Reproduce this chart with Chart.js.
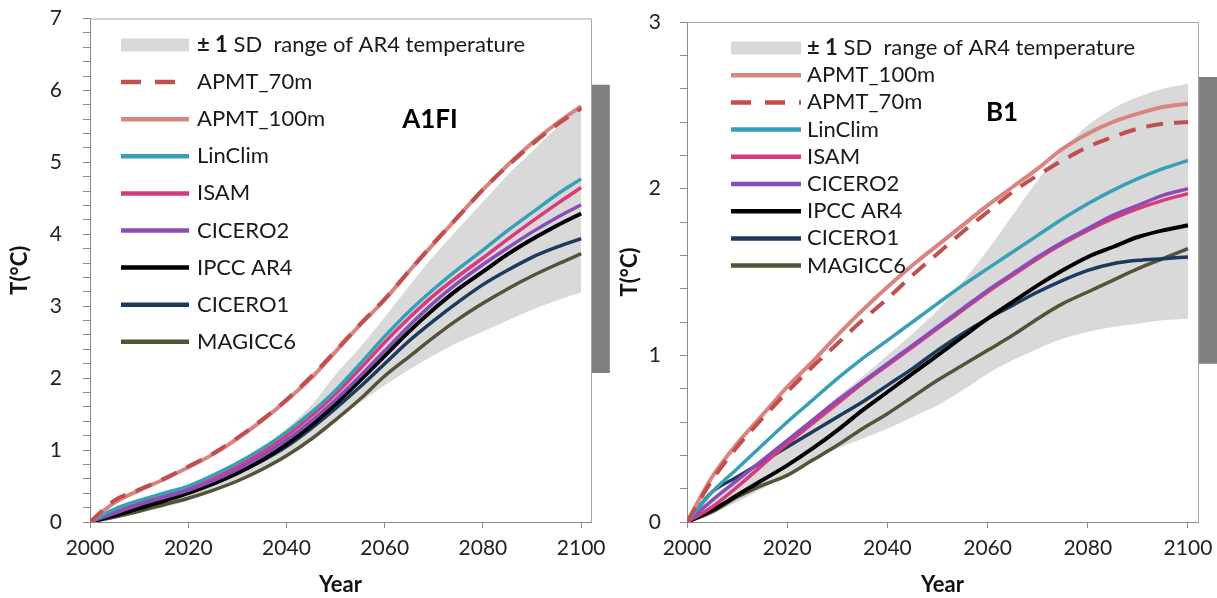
<!DOCTYPE html>
<html lang="en">
<head>
    <meta charset="UTF-8">
    <title>A1FI and B1 temperature projections</title>
    <script src="https://cdn.jsdelivr.net/npm/chart.js"></script>
    <style>
        * {
            margin: 0;
            padding: 0;
            box-sizing: border-box;
        }

        body {
            background-color: #fff;
            width: 1217px;
            height: 598px;
            overflow: hidden;
        }

        .row {
            display: flex;
        }

        canvas {
            display: block;
        }
    </style>
</head>
<body>

    <div class="row">
        <canvas id="chartA1FI" width="610" height="598"></canvas>
        <canvas id="chartB1" width="607" height="598"></canvas>
    </div>

    <script>
        // years shared by every series (5-year steps)
        const years = [2000, 2005, 2010, 2015, 2020, 2025, 2030, 2035, 2040, 2045, 2050,
                       2055, 2060, 2065, 2070, 2075, 2080, 2085, 2090, 2095, 2100];
        const xTicks = [2000, 2020, 2040, 2060, 2080, 2100];
        const barYear = 2104;

        // ---- A1FI ----
        const a1fiApmt70  = [0, 0.30, 0.45, 0.60, 0.77, 0.95, 1.17, 1.42, 1.70, 2.02, 2.38, 2.75, 3.10, 3.49, 3.88, 4.25, 4.62, 4.95, 5.25, 5.52, 5.75];
        const a1fiApmt100 = [0, 0.27, 0.44, 0.59, 0.76, 0.94, 1.16, 1.41, 1.69, 2.00, 2.37, 2.74, 3.09, 3.49, 3.87, 4.25, 4.62, 4.96, 5.27, 5.54, 5.78];
        const a1fiLinClim = [0, 0.18, 0.30, 0.40, 0.50, 0.65, 0.82, 1.02, 1.25, 1.52, 1.83, 2.20, 2.58, 2.93, 3.24, 3.52, 3.78, 4.05, 4.30, 4.55, 4.77];
        const a1fiIsam    = [0, 0.15, 0.27, 0.37, 0.47, 0.60, 0.77, 0.97, 1.20, 1.47, 1.78, 2.13, 2.50, 2.84, 3.15, 3.42, 3.67, 3.93, 4.18, 4.42, 4.65];
        const a1fiCicero2 = [0, 0.12, 0.24, 0.34, 0.44, 0.57, 0.73, 0.92, 1.14, 1.40, 1.70, 2.03, 2.38, 2.73, 3.05, 3.33, 3.58, 3.81, 4.03, 4.23, 4.41];
        const a1fiIpcc    = [0, 0.09, 0.19, 0.29, 0.40, 0.53, 0.68, 0.86, 1.08, 1.34, 1.64, 1.97, 2.31, 2.65, 2.96, 3.24, 3.48, 3.72, 3.93, 4.12, 4.29];
        const a1fiCicero1 = [0, 0.12, 0.22, 0.32, 0.42, 0.54, 0.68, 0.85, 1.05, 1.30, 1.58, 1.88, 2.20, 2.52, 2.80, 3.06, 3.30, 3.50, 3.68, 3.82, 3.94];
        const a1fiMagicc6 = [0, 0.07, 0.15, 0.24, 0.33, 0.44, 0.57, 0.73, 0.92, 1.15, 1.42, 1.71, 2.03, 2.30, 2.57, 2.82, 3.04, 3.24, 3.42, 3.58, 3.73];
        const a1fiSdUpper = [0, 0.10, 0.22, 0.36, 0.52, 0.66, 0.82, 1.03, 1.30, 1.62, 2.05, 2.43, 2.85, 3.28, 3.70, 4.08, 4.45, 4.82, 5.15, 5.48, 5.80];
        const a1fiSdLower = [0, 0.05, 0.12, 0.20, 0.30, 0.42, 0.55, 0.72, 0.95, 1.18, 1.42, 1.66, 1.90, 2.12, 2.32, 2.50, 2.65, 2.80, 2.95, 3.08, 3.19];
        const a1fiBar = [2.07, 6.08];

        // ---- B1 ----
        const b1Apmt100 = [0, 0.27, 0.47, 0.64, 0.81, 0.96, 1.12, 1.27, 1.41, 1.54, 1.66, 1.78, 1.90, 2.01, 2.12, 2.24, 2.33, 2.40, 2.45, 2.49, 2.51];
        const b1Apmt70  = [0, 0.25, 0.45, 0.62, 0.78, 0.93, 1.07, 1.21, 1.34, 1.48, 1.61, 1.74, 1.86, 1.98, 2.08, 2.17, 2.25, 2.31, 2.36, 2.39, 2.40];
        const b1LinClim = [0, 0.18, 0.32, 0.46, 0.60, 0.73, 0.86, 0.98, 1.09, 1.20, 1.31, 1.42, 1.52, 1.62, 1.72, 1.82, 1.91, 1.99, 2.06, 2.12, 2.17];
        const b1Isam    = [0, 0.09, 0.21, 0.34, 0.47, 0.59, 0.71, 0.83, 0.94, 1.05, 1.16, 1.27, 1.38, 1.48, 1.58, 1.67, 1.75, 1.82, 1.88, 1.93, 1.97];
        const b1Cicero2 = [0, 0.13, 0.25, 0.37, 0.49, 0.61, 0.73, 0.84, 0.95, 1.06, 1.17, 1.28, 1.39, 1.49, 1.59, 1.68, 1.76, 1.84, 1.90, 1.96, 2.00];
        const b1Ipcc    = [0, 0.07, 0.16, 0.25, 0.34, 0.44, 0.55, 0.67, 0.78, 0.89, 1.00, 1.11, 1.22, 1.32, 1.42, 1.51, 1.59, 1.65, 1.71, 1.75, 1.78];
        const b1Cicero1 = [0, 0.18, 0.27, 0.36, 0.45, 0.54, 0.63, 0.72, 0.82, 0.92, 1.03, 1.13, 1.22, 1.30, 1.38, 1.45, 1.51, 1.55, 1.57, 1.58, 1.59];
        const b1Magicc6 = [0, 0.06, 0.15, 0.22, 0.28, 0.37, 0.46, 0.56, 0.65, 0.75, 0.85, 0.94, 1.03, 1.12, 1.22, 1.31, 1.38, 1.45, 1.52, 1.58, 1.64];
        const b1SdUpper = [0, 0.12, 0.25, 0.37, 0.50, 0.62, 0.75, 0.87, 1.00, 1.13, 1.27, 1.44, 1.63, 1.84, 2.05, 2.23, 2.38, 2.48, 2.55, 2.60, 2.63];
        const b1SdLower = [0, 0.05, 0.12, 0.20, 0.28, 0.36, 0.44, 0.50, 0.56, 0.63, 0.70, 0.79, 0.89, 0.97, 1.04, 1.10, 1.14, 1.17, 1.19, 1.21, 1.22];
        const b1Bar = [0.95, 2.67];

        const FONT = 'Lato, "Open Sans", sans-serif';
        Chart.defaults.font.family = FONT;

        const colors = {
            'APMT_70m':  '#C0504D',
            'APMT_100m': '#DA8482',
            'LinClim':   '#37A0B6',
            'ISAM':      '#D83A7C',
            'CICERO2':   '#8A4DB8',
            'IPCC AR4':  '#000000',
            'CICERO1':   '#1B3A5E',
            'MAGICC6':   '#545239',
            band:        '#D9D9D9',
            bar:         '#808080'
        };
        const apmtDash = [17, 11];

        const pts = arr => years.map((yr, i) => ({ x: yr, y: arr[i] }));

        function series(label, arr, width) {
            return {
                label: label,
                data: pts(arr),
                borderColor: colors[label],
                borderWidth: width || 3.5,
                borderDash: label === 'APMT_70m' ? apmtDash : [],
                pointRadius: 0,
                fill: false
            };
        }

        // draws legend + scenario name inside the plot, and the top/right frame
        const overlayPlugin = {
            id: 'overlay',
            afterDraw(chart, args, o) {
                const ctx = chart.ctx;
                const a = chart.chartArea;
                ctx.save();

                ctx.strokeStyle = '#a6a6a6';
                ctx.lineWidth = 1;
                ctx.beginPath();
                ctx.moveTo(a.left, a.top + 0.5);
                ctx.lineTo(a.right + 0.5, a.top + 0.5);
                ctx.lineTo(a.right + 0.5, a.bottom);
                ctx.stroke();

                ctx.textBaseline = 'middle';
                o.items.forEach((name, i) => {
                    const y = o.top + i * o.rowGap;
                    if (name === 'band') {
                        ctx.fillStyle = colors.band;
                        ctx.fillRect(o.x1, y - 6.5, o.x2 - o.x1, 13);
                        ctx.fillStyle = '#1a1a1a';
                        ctx.font = 'bold 22px ' + FONT;
                        ctx.fillText('\u00b1 1', o.textX, y);
                        const w = ctx.measureText('\u00b1 1').width;
                        ctx.font = '22px ' + FONT;
                        ctx.fillText(' SD  range of AR4 temperature', o.textX + w, y);
                        return;
                    }
                    ctx.strokeStyle = colors[name];
                    ctx.lineWidth = 4.5;
                    ctx.setLineDash(name === 'APMT_70m' ? [20, 14] : []);
                    ctx.beginPath();
                    ctx.moveTo(o.x1, y);
                    ctx.lineTo(o.x2, y);
                    ctx.stroke();
                    ctx.setLineDash([]);
                    ctx.fillStyle = '#1a1a1a';
                    ctx.font = '22px ' + FONT;
                    ctx.fillText(name, o.textX, y);
                });

                ctx.font = 'bold 26px ' + FONT;
                ctx.textAlign = 'center';
                ctx.fillStyle = '#000';
                ctx.fillText(o.scenario, o.scenarioX, o.scenarioY);
                ctx.restore();
            }
        };

        function makeChart(id, cfg) {
            const s = cfg.data;
            const datasets = [
                series('APMT_70m', s.apmt70, 4),
                series('APMT_100m', s.apmt100, 4),
                series('LinClim', s.linClim),
                series('CICERO2', s.cicero2),
                series('ISAM', s.isam),
                series('IPCC AR4', s.ipcc, 4),
                series('CICERO1', s.cicero1),
                series('MAGICC6', s.magicc6),
                {
                    label: 'range bar',
                    data: [{ x: barYear, y: s.bar[0] }, { x: barYear, y: s.bar[1] }],
                    borderColor: colors.bar,
                    borderWidth: 18,
                    borderCapStyle: 'butt',
                    pointRadius: 0,
                    tension: 0,
                    cubicInterpolationMode: 'default',
                    clip: false,
                    fill: false
                },
                {
                    label: 'SD upper',
                    data: pts(s.sdUpper),
                    borderWidth: 0,
                    borderColor: 'rgba(0,0,0,0)',
                    backgroundColor: colors.band,
                    pointRadius: 0,
                    fill: { target: 10 }
                },
                {
                    label: 'SD lower',
                    data: pts(s.sdLower),
                    borderWidth: 0,
                    borderColor: 'rgba(0,0,0,0)',
                    pointRadius: 0,
                    fill: false
                }
            ];

            return new Chart(document.getElementById(id), {
                type: 'line',
                data: { datasets: datasets },
                options: {
                    responsive: false,
                    animation: false,
                    events: [],
                    layout: { padding: { left: 0, top: cfg.padTop, right: 19, bottom: 0 } },
                    elements: { line: { cubicInterpolationMode: 'monotone' } },
                    plugins: {
                        legend: { display: false },
                        tooltip: { enabled: false },
                        overlay: cfg.overlay
                    },
                    scales: {
                        x: {
                            type: 'linear',
                            min: 2000,
                            max: 2102,
                            afterBuildTicks: ax => { ax.ticks = xTicks.map(v => ({ value: v })); },
                            afterFit: ax => {
                                ax.height = 76;
                                ax.paddingLeft = 0;
                                ax.paddingRight = 0;
                            },
                            grid: { drawOnChartArea: false, tickLength: 6, tickColor: '#8c8c8c' },
                            border: { color: '#8c8c8c' },
                            ticks: {
                                font: { size: 21 }, color: '#222', padding: 8,
                                maxRotation: 0, autoSkip: false,
                                callback: v => String(v)
                            },
                            title: {
                                display: true, text: 'Year', color: '#111',
                                font: { size: 22, weight: 'bold' }, padding: { top: 0, bottom: 0 }
                            }
                        },
                        y: {
                            min: 0,
                            max: cfg.yMax,
                            afterFit: ax => {
                                ax.width = cfg.yWidth;
                                ax.paddingTop = 0;
                                ax.paddingBottom = 0;
                            },
                            grid: { drawOnChartArea: false, tickLength: 7, tickColor: '#8c8c8c' },
                            border: { color: '#8c8c8c' },
                            ticks: {
                                stepSize: 0.2,
                                autoSkip: false,
                                font: { size: 21 },
                                color: '#222',
                                padding: cfg.yPad,
                                callback: v => {
                                    const r = Math.round(v);
                                    return Math.abs(v - r) < 1e-6 ? String(r) : '';
                                }
                            },
                            title: {
                                display: true, text: 'T(\u00b0C)', color: '#111',
                                font: { size: 22, weight: 'bold' }, padding: { top: 7, bottom: 0 }
                            }
                        }
                    }
                },
                plugins: [overlayPlugin]
            });
        }

        makeChart('chartA1FI', {
            yMax: 7, yWidth: 90, yPad: 21, padTop: 18.5,
            data: {
                apmt70: a1fiApmt70, apmt100: a1fiApmt100, linClim: a1fiLinClim, isam: a1fiIsam,
                cicero2: a1fiCicero2, ipcc: a1fiIpcc, cicero1: a1fiCicero1, magicc6: a1fiMagicc6,
                sdUpper: a1fiSdUpper, sdLower: a1fiSdLower, bar: a1fiBar
            },
            overlay: {
                items: ['band', 'APMT_70m', 'APMT_100m', 'LinClim', 'ISAM', 'CICERO2', 'IPCC AR4', 'CICERO1', 'MAGICC6'],
                x1: 121, x2: 189, textX: 197, top: 45, rowGap: 37.1,
                scenario: 'A1FI', scenarioX: 430, scenarioY: 120
            }
        });

        makeChart('chartB1', {
            yMax: 3, yWidth: 77, yPad: 19, padTop: 22,
            data: {
                apmt70: b1Apmt70, apmt100: b1Apmt100, linClim: b1LinClim, isam: b1Isam,
                cicero2: b1Cicero2, ipcc: b1Ipcc, cicero1: b1Cicero1, magicc6: b1Magicc6,
                sdUpper: b1SdUpper, sdLower: b1SdLower, bar: b1Bar
            },
            overlay: {
                items: ['band', 'APMT_100m', 'APMT_70m', 'LinClim', 'ISAM', 'CICERO2', 'IPCC AR4', 'CICERO1', 'MAGICC6'],
                x1: 121, x2: 191, textX: 197, top: 48, rowGap: 27.2,
                scenario: 'B1', scenarioX: 392, scenarioY: 113
            }
        });
    </script>
</body>
</html>
